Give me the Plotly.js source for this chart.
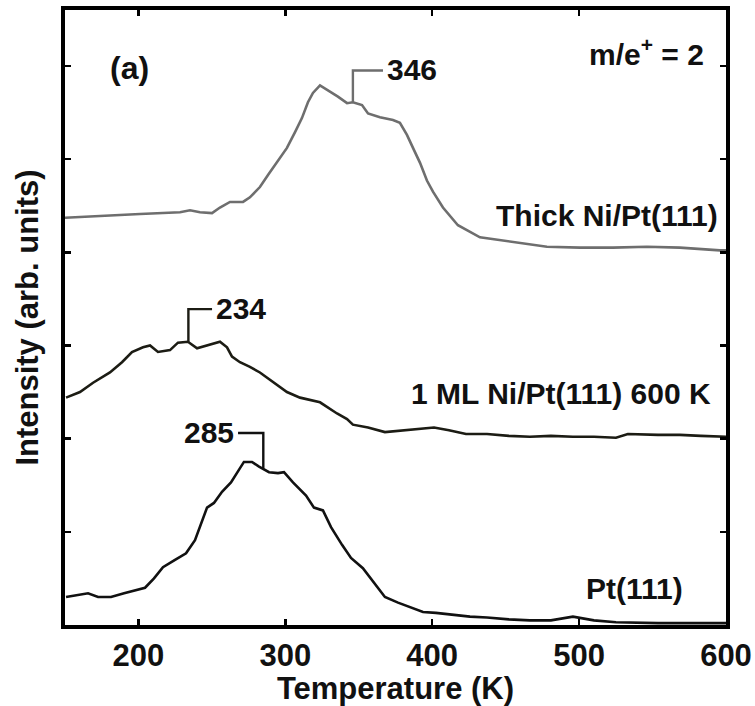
<!DOCTYPE html>
<html>
<head>
<meta charset="utf-8">
<script src="https://cdn.plot.ly/plotly-3.0.1.min.js"></script>
<style>html,body{margin:0;padding:0;background:#fff;}#chart{width:755px;height:706px;}</style>
</head>
<body>
<div id="chart"></div>
<script>
// Thick Ni/Pt(111)
const thickT = [150.0,160.2,173.8,187.4,201.1,214.7,228.3,235.1,241.9,250.1,255.5,262.3,271.2,275.9,282.7,288.2,294.3,301.1,306.6,311.3,315.4,318.8,323.6,329.0,335.8,342.0,346.0,352.2,356.3,364.4,373.3,378.0,382.8,386.9,391.7,396.4,400.5,407.3,413.4,417.5,432.5,455.0,478.1,500.6,523.0,546.2,568.6,595.9,600.0];
const thickI = [4.37,4.38,4.39,4.40,4.41,4.42,4.43,4.45,4.43,4.42,4.48,4.54,4.54,4.59,4.70,4.83,4.97,5.12,5.29,5.44,5.61,5.71,5.79,5.74,5.67,5.60,5.61,5.58,5.49,5.45,5.42,5.39,5.26,5.12,4.96,4.77,4.65,4.48,4.37,4.29,4.16,4.11,4.06,4.05,4.05,4.06,4.05,4.02,4.02];
// 1 ML Ni/Pt(111) 600 K
const monoT = [150.7,160.2,169.1,180.6,188.8,195.6,203.1,207.9,213.3,221.5,226.9,233.7,239.9,246.7,255.5,260.3,263.7,269.1,275.9,282.7,291.6,301.1,310.0,323.6,335.2,342.0,346.0,356.3,367.8,379.4,391.0,401.2,411.4,423.0,437.3,452.2,466.5,480.8,495.8,510.1,525.1,533.2,553.7,568.6,582.9,600.0];
const monoI = [2.44,2.50,2.60,2.71,2.82,2.93,2.98,3.00,2.93,2.95,3.03,3.04,2.97,3.00,3.04,2.98,2.88,2.82,2.77,2.71,2.61,2.50,2.44,2.39,2.27,2.21,2.15,2.12,2.07,2.09,2.11,2.12,2.09,2.05,2.05,2.03,2.02,2.03,2.02,2.02,2.01,2.05,2.04,2.04,2.03,2.02];
// Pt(111)
const ptT = [150.7,158.2,165.7,172.5,181.3,190.2,199.0,204.5,210.6,216.7,224.9,232.4,238.5,242.6,246.7,251.4,256.9,263.0,267.1,271.8,277.3,282.1,288.9,295.0,299.1,305.2,314.1,319.5,325.6,331.1,338.6,344.7,352.8,359.0,367.8,376.7,384.8,393.7,402.5,414.1,425.7,437.3,452.2,466.5,480.8,495.8,510.1,525.1,553.7,582.9,600.0];
const ptI = [0.30,0.32,0.34,0.30,0.30,0.34,0.38,0.40,0.50,0.62,0.70,0.77,0.91,1.09,1.26,1.31,1.43,1.53,1.63,1.75,1.75,1.70,1.64,1.63,1.64,1.53,1.39,1.26,1.23,1.05,0.86,0.72,0.61,0.48,0.30,0.24,0.19,0.14,0.13,0.11,0.09,0.08,0.06,0.05,0.05,0.09,0.05,0.03,0.02,0.02,0.02];

// Peak markers
const peakLabels = ['346','234','285'];
const peakT = [346, 234, 285];
const peakBase = [5.61, 3.04, 1.68];
const peakTop = [5.95, 3.39, 2.06];
const peakArmT = [366.5, 250.1, 267.8];
const peakColors = ['#6e6e6e','#1c1c14','#111111'];

const xTicks = [200, 300, 400, 500, 600];
const xTickText = ['200','300','400','500','600'];

const FONT = 'Liberation Sans, Arial, Helvetica, sans-serif';
const txt = {family: FONT, size: 30, color: '#111', weight: 700};

const traces = [
  {x: thickT, y: thickI, mode: 'lines', line: {color: '#6e6e6e', width: 2.6}, hoverinfo: 'skip'},
  {x: monoT, y: monoI, mode: 'lines', line: {color: '#1c1c14', width: 2.6}, hoverinfo: 'skip'},
  {x: ptT, y: ptI, mode: 'lines', line: {color: '#111111', width: 2.6}, hoverinfo: 'skip'}
];

const shapes = [];
const annotations = [];
for (let i = 0; i < peakT.length; i++) {
  shapes.push({type: 'path', xref: 'x', yref: 'y',
    path: 'M' + peakT[i] + ',' + peakBase[i] + ' L' + peakT[i] + ',' + peakTop[i] + ' L' + peakArmT[i] + ',' + peakTop[i],
    line: {color: peakColors[i], width: 2.4}});
  const right = peakArmT[i] > peakT[i];
  annotations.push({x: peakArmT[i] + (right ? 1.5 : -1.5), y: peakTop[i] + 0.01, xref: 'x', yref: 'y',
    text: peakLabels[i], showarrow: false, xanchor: right ? 'left' : 'right', yanchor: 'middle', font: txt});
}
annotations.push({x: 0.065, y: 0.905, xref: 'paper', yref: 'paper', text: '(a)', showarrow: false, xanchor: 'left', yanchor: 'middle',
  font: {family: FONT, size: 32, color: '#111', weight: 700}});
annotations.push({x: 0.97, y: 0.932, xref: 'paper', yref: 'paper', text: 'm/e<sup>+</sup> = 2', showarrow: false, xanchor: 'right', yanchor: 'middle', font: txt});
annotations.push({x: 596, y: 4.39, xref: 'x', yref: 'y', text: 'Thick Ni/Pt(111)', showarrow: false, xanchor: 'right', yanchor: 'middle', font: txt});
annotations.push({x: 591, y: 2.48, xref: 'x', yref: 'y', text: '1 ML Ni/Pt(111) 600 K', showarrow: false, xanchor: 'right', yanchor: 'middle', font: txt});
annotations.push({x: 572, y: 0.39, xref: 'x', yref: 'y', text: 'Pt(111)', showarrow: false, xanchor: 'right', yanchor: 'middle', font: txt});

const layout = {
  width: 755, height: 706,
  margin: {l: 65, r: 29, t: 10, b: 81},
  paper_bgcolor: '#fff', plot_bgcolor: '#fff',
  showlegend: false,
  font: txt,
  xaxis: {
    range: [150, 600], tickvals: xTicks, ticktext: xTickText,
    ticks: 'inside', ticklen: 6, tickwidth: 2.5, tickcolor: '#000',
    showline: true, linecolor: '#000', linewidth: 4, mirror: 'ticks',
    showgrid: false, zeroline: false,
    tickfont: {family: FONT, size: 31, color: '#111', weight: 700},
    title: {text: 'Temperature (K)', font: {family: FONT, size: 31, color: '#111', weight: 700}, standoff: 8}
  },
  yaxis: {
    range: [0, 6.6], dtick: 1, tick0: 0,
    ticks: 'inside', ticklen: 6, tickwidth: 2.5, tickcolor: '#000',
    showline: true, linecolor: '#000', linewidth: 4, mirror: 'ticks',
    showgrid: false, zeroline: false, showticklabels: false,
    title: {text: 'Intensity (arb. units)', font: {family: FONT, size: 31, color: '#111', weight: 700}, standoff: 14}
  },
  shapes: shapes,
  annotations: annotations
};

Plotly.newPlot('chart', traces, layout, {displayModeBar: false, staticPlot: true});
</script>
</body>
</html>
